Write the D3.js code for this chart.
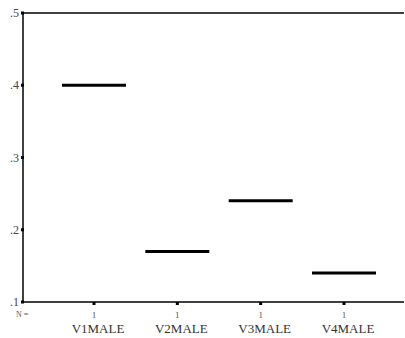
<!DOCTYPE html>
<html><head><meta charset="utf-8">
<script src="https://cdn.jsdelivr.net/npm/d3@7"></script>
<style>body{margin:0;background:#fff}svg{display:block}text{font-family:'Liberation Serif','Times New Roman',serif}</style>
</head><body><svg id="c" width="405" height="338"></svg>
<script>
const categories = ["V1MALE","V2MALE","V3MALE","V4MALE"];
const values = [0.40, 0.17, 0.24, 0.14];
const counts = [1, 1, 1, 1];
const yTicks = [0.1, 0.2, 0.3, 0.4, 0.5];

(function(){
const svg = d3.select("#c");
const mL = 23, mR = 404, mT = 13, mB = 302;
const y = d3.scaleLinear().domain([0.1, 0.5]).range([mB, mT]);
const x = d3.scalePoint().domain(categories).range([94, 344]);
const halfW = 32;

svg.append("line").attr("x1", mL).attr("x2", mR).attr("y1", mT).attr("y2", mT).attr("stroke", "#000").attr("stroke-width", 1.5);
svg.append("line").attr("x1", mL).attr("x2", mR).attr("y1", mB).attr("y2", mB).attr("stroke", "#000").attr("stroke-width", 1.5);
svg.append("line").attr("x1", mL).attr("x2", mL).attr("y1", mT).attr("y2", mB).attr("stroke", "#000").attr("stroke-width", 1.5);

const fmt = v => d3.format(".1f")(v).replace(/^0/, "");
yTicks.forEach(t => {
  svg.append("rect").attr("x", mL - 2).attr("y", y(t) - 1.5).attr("width", 3).attr("height", 3).attr("fill", "#000");
  svg.append("text").attr("x", mL - 4).attr("y", y(t) + 4).attr("text-anchor", "end")
    .attr("font-size", 12).attr("fill", "#444").text(fmt(t));
});

categories.forEach((c, i) => {
  svg.append("rect").attr("x", x(c) - 1.5).attr("y", mB).attr("width", 3).attr("height", 3).attr("fill", "#000");
  svg.append("text").attr("x", x(c)).attr("y", 318).attr("text-anchor", "middle")
    .attr("font-size", 9).attr("fill", "#555").text(counts[i]);
  svg.append("text").attr("x", x(c) + 4).attr("y", 333).attr("text-anchor", "middle")
    .attr("font-size", 13).attr("fill", "#333").text(c);
});
svg.append("text").attr("x", 16).attr("y", 317).attr("font-size", 8).attr("fill", "#555").text("N =");

svg.selectAll("line.med").data(values).enter().append("line").attr("class", "med")
  .attr("x1", (d, i) => x(categories[i]) - halfW).attr("x2", (d, i) => x(categories[i]) + halfW)
  .attr("y1", d => y(d)).attr("y2", d => y(d)).attr("stroke", "#000").attr("stroke-width", 3);
})();
</script></body></html>
